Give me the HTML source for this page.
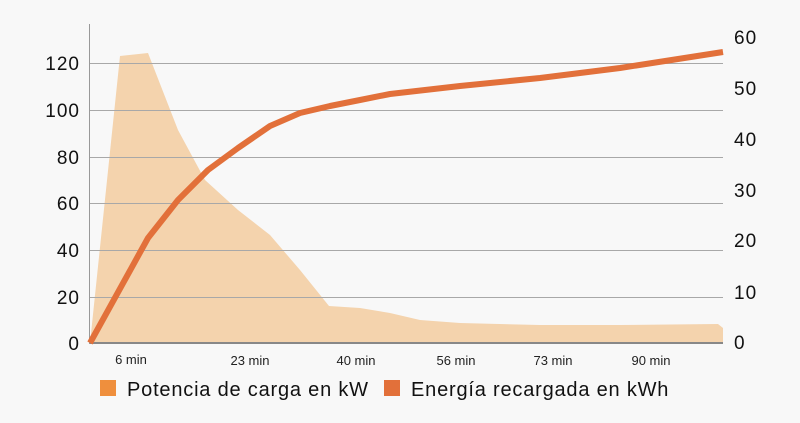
<!DOCTYPE html>
<html><head><style>
body{margin:0;background:#f8f8f8;}
svg{display:block;font-family:"Liberation Sans",sans-serif;}
</style></head><body>
<svg width="800" height="423" viewBox="0 0 800 423">
<rect width="800" height="423" fill="#f8f8f8"/>
<polygon fill="#f4d3ad" points="90,343 120,56 148,53 178,130 205,180 238,210 270,235 300,270 329,306 360,308 390,313 420,320 460,323 540,325 620,325 718,324 723,328 723,343"/>
<g stroke="#a8a8a8" stroke-width="1">
<line x1="90" x2="723" y1="63.5" y2="63.5"/>
<line x1="90" x2="723" y1="110.5" y2="110.5"/>
<line x1="90" x2="723" y1="157.5" y2="157.5"/>
<line x1="90" x2="723" y1="203.5" y2="203.5"/>
<line x1="90" x2="723" y1="250.5" y2="250.5"/>
<line x1="90" x2="723" y1="297.5" y2="297.5"/>
</g>
<line x1="90" x2="723" y1="343" y2="343" stroke="#888" stroke-width="2"/>
<line x1="89.5" x2="89.5" y1="24" y2="344" stroke="#999" stroke-width="1"/>
<polyline fill="none" stroke="#e2703a" stroke-width="6" stroke-linejoin="round" points="90,343 148,238 178,200 208,170 238,148 270,126 300,113 330,106 360,100 390,94 460,86 540,78 620,68 723,52"/>
<g font-size="19" fill="#111" text-anchor="end" letter-spacing="1">
<text x="80" y="70">120</text><text x="80" y="117">100</text><text x="80" y="164">80</text>
<text x="80" y="210">60</text><text x="80" y="257">40</text><text x="80" y="304">20</text><text x="80" y="350">0</text>
</g>
<g font-size="19" fill="#111" letter-spacing="1">
<text x="734" y="44">60</text><text x="734" y="95">50</text><text x="734" y="146">40</text>
<text x="734" y="197">30</text><text x="734" y="247">20</text><text x="734" y="299">10</text><text x="734" y="349">0</text>
</g>
<g font-size="13" fill="#222" text-anchor="middle">
<text x="131" y="364">6 min</text><text x="250" y="365">23 min</text><text x="356" y="365">40 min</text>
<text x="456" y="365">56 min</text><text x="553" y="365">73 min</text><text x="651" y="365">90 min</text>
</g>
<rect x="100" y="380" width="16" height="16" fill="#ef8f3d"/>
<text x="127" y="396" font-size="20" fill="#111" letter-spacing="0.8">Potencia de carga en kW</text>
<rect x="384" y="380" width="16" height="16" fill="#e2703a"/>
<text x="411" y="396" font-size="20" fill="#111" letter-spacing="0.8">Energía recargada en kWh</text>
</svg>
</body></html>
